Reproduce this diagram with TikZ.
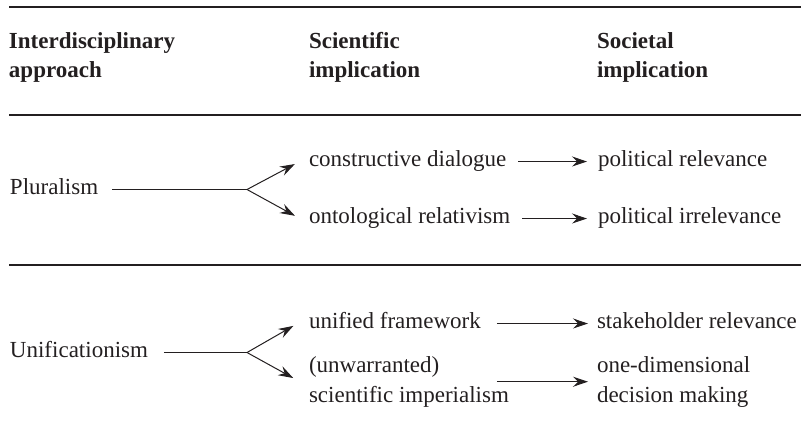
\documentclass[tikz,border=0pt]{standalone}
\usepackage{fontspec}
\setmainfont{Liberation Serif}
\usetikzlibrary{arrows.meta, positioning, calc}
\definecolor{ink}{HTML}{231F20}

\begin{document}
\begin{tikzpicture}[x=0.5pt, y=-0.5pt,
    every node/.style={inner sep=0pt, outer sep=0pt, anchor=base west,
      text=ink, font=\fontsize{11.5}{14.75}\selectfont},
    head/.style={font=\fontsize{11.5}{14.5}\selectfont\bfseries, align=left},
    item/.style={text height=0.7em, text depth=0.25em},
    pair/.style={align=left},
    rule/.style={draw=ink, line width=0.65pt},
    link/.style={draw=ink, line width=0.5pt},
    arr/.style={link, -{Stealth[length=7.5pt, width=5pt, inset=2.6pt]}}]
\useasboundingbox (0,0) rectangle (801,441);

% Rules
\draw[rule] (9,7) -- (801,7);
\draw[rule] (9,115) -- (801,115);
\draw[rule] (9,265) -- (801,265);

% Column heads (placed at the baseline of the last line)
\node[head] (hApp) at (9,77) {Interdisciplinary\\approach};
\node[head] (hSci) at (309,77) {Scientific\\implication};
\node[head] (hSoc) at (597,77) {Societal\\implication};

% Pluralism
\node[item] (plur) at (10,194) {Pluralism};
\coordinate (plurFork) at (247,0 |- plur.east);
\node[item] (dial) at (309,166) {constructive dialogue};
\node[item] (relat) at (309,223) {ontological relativism};
\node[item] (polRel) at (598,166) {political relevance};
\node[item] (polIrr) at (598,223) {political irrelevance};

\draw[link, shorten <=7pt] (plur.east) -- (plurFork);
\draw[arr, shorten >=8pt] (plurFork) -- ([yshift=2.5pt]dial.west);
\draw[arr, shorten >=8pt] (plurFork) -- ([yshift=-2.5pt]relat.west);
\draw[arr, shorten <=6pt, shorten >=5.5pt] (dial.east) -- (polRel.west);
\draw[arr, shorten <=6pt, shorten >=5.5pt] (relat.east) -- (polIrr.west);

% Unificationism
\node[item] (unif) at (10,357) {Unificationism};
\coordinate (unifFork) at (247,0 |- unif.east);
\node[item] (frame) at (309,328) {unified framework};
\node[pair] (imper) at (309,402) {(unwarranted)\\scientific imperialism};
\node[item] (stake) at (597,328) {stakeholder relevance};
\node[pair] (oneDim) at (597,402) {one-dimensional\\decision making};

\draw[link, shorten <=8pt] (unif.east) -- (unifFork);
\draw[arr, shorten >=9pt] (unifFork) -- ([yshift=3.3pt]frame.west);
\draw[arr, shorten >=9pt] (unifFork) -- ([yshift=-2.5pt]imper.west);
\draw[arr, shorten <=8pt, shorten >=4.5pt] (frame.east) -- (stake.west);
\draw[arr, shorten <=8pt, shorten >=4.5pt] (imper.east -| frame.east) -- (imper.east -| oneDim.west);
\end{tikzpicture}
\end{document}
